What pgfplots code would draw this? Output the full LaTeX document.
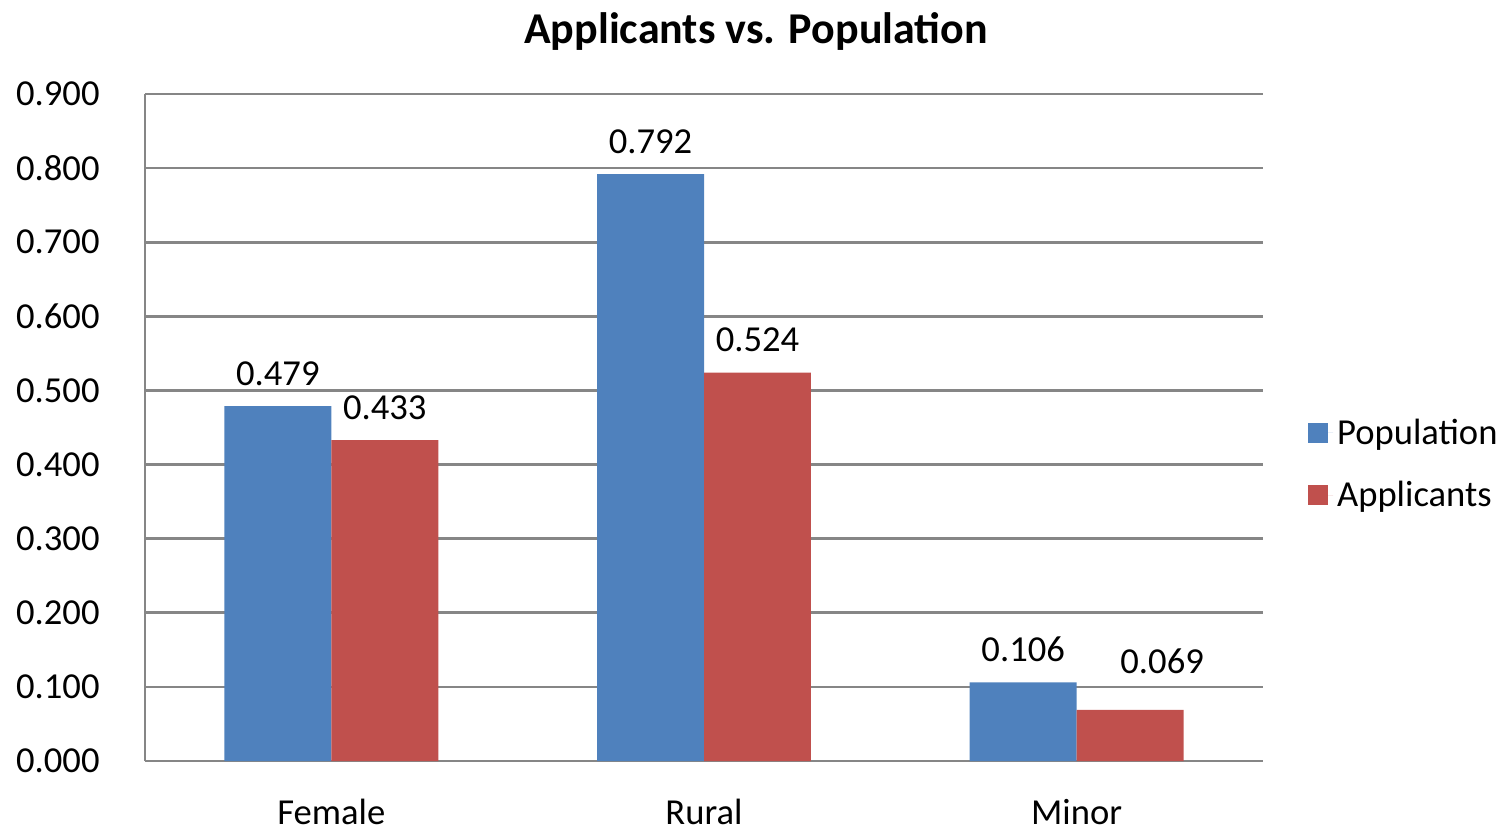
\documentclass[border=0pt]{standalone}
\usepackage{pgfplots}
\usepackage{pgfplotstable}
\pgfplotsset{compat=1.18}
\usepackage{fontspec}
\setmainfont{Carlito}
\definecolor{popblue}{HTML}{4F81BD}
\definecolor{appred}{HTML}{C0504D}
\definecolor{gridgray}{HTML}{868686}
\pgfplotstableread{
x y shift xs
0 0.479 10 0
1 0.792 10 0
2 0.106 10 0
}\population
\pgfplotstableread{
x y shift xs
0 0.433 10 0
1 0.524 10 0
2 0.069 18 16
}\applicants
\begin{document}
\begin{tikzpicture}
\useasboundingbox (-72.5pt,-38pt) rectangle (680.5pt,380.5pt);
\begin{axis}[
  at={(0,0)}, anchor=south west,
  scale only axis,
  width=559pt, height=333.5pt,
  ybar=0pt,
  bar width=0.287,
  xmin=-0.5, xmax=2.5,
  ymin=0, ymax=0.9,
  xtick={0,1,2},
  xticklabels={Female,Rural,Minor},
  ytick={0,0.1,...,0.9},
  major tick length=0pt,
  axis x line*=bottom,
  axis y line*=left,
  axis line style={draw=gridgray, line width=1.3pt, -},
  ymajorgrids,
  grid style={draw=gridgray, line width=1.3pt},
  font=\fontsize{18.3pt}{22pt}\selectfont,
  /pgf/number format/assume math mode=true,
  yticklabel style={/pgf/number format/.cd, fixed, fixed zerofill, precision=3, /tikz/.cd, anchor=east, inner sep=0pt, xshift=-22.5pt},
  xticklabel style={anchor=base, inner sep=0pt, text depth=0pt, yshift=-31.5pt},
  nodes near coords,
  visualization depends on={\thisrow{shift} \as \myshift},
  visualization depends on={\thisrow{xs} \as \myxshift},
  nodes near coords style={/pgf/number format/.cd, fixed, fixed zerofill, precision=3, /tikz/.cd, anchor=south, inner sep=0pt, yshift=\myshift pt, xshift=\myxshift pt, font=\fontsize{18.3pt}{22pt}\selectfont},
  title={\textbf{Applicants vs. Population}},
  title style={at={(0.5465,1)}, anchor=base, yshift=19.5pt, font=\fontsize{22pt}{26pt}\selectfont},
  legend style={draw=none, fill=none, at={(1.040,0.445)}, anchor=west, inner sep=0pt,
    row sep=13pt, font=\fontsize{18.3pt}{22pt}\selectfont,
    /tikz/every even column/.append style={column sep=0pt}},
  legend cell align=left,
  legend image code/.code={\fill[#1] (0pt,-5pt) rectangle (10pt,5pt); \path (0pt,0pt) -- (12.5pt,0pt);},
]
\addplot[fill=popblue, draw=none] table[x=x, y=y] {\population};
\addplot[fill=appred, draw=none] table[x=x, y=y] {\applicants};
\legend{Population,Applicants}
\end{axis}
\end{tikzpicture}
\end{document}
